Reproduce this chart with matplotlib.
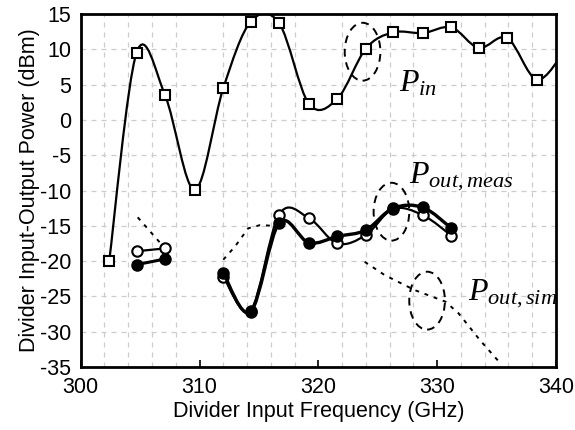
import numpy as np
import matplotlib
matplotlib.use('Agg')
import matplotlib.pyplot as plt
from matplotlib.path import Path
from matplotlib.patches import PathPatch, Ellipse

plt.rcParams['font.family'] = ['Liberation Sans', 'DejaVu Sans']
plt.rcParams['axes.unicode_minus'] = False
plt.rcParams['mathtext.fontset'] = 'custom'
plt.rcParams['mathtext.it'] = 'Liberation Serif:italic'
plt.rcParams['mathtext.rm'] = 'Liberation Serif'

# P_in (squares)
f_pin = [302.4, 304.7, 307.1, 309.6, 312.0, 314.3, 316.7, 319.2, 321.6,
         324.0, 326.3, 328.8, 331.2, 333.5, 335.9, 338.4, 340.8]
p_pin = [-20.0, 9.5, 3.5, -9.9, 4.5, 13.9, 13.7, 2.3, 3.0,
         10.1, 12.4, 12.3, 13.1, 10.2, 11.6, 5.7, 10.0]

# P_out,meas - open / filled circles
f_meas_a = [304.7, 307.1]
p_open_a = [-18.6, -18.2]
p_fill_a = [-20.5, -19.7]
f_meas_b = [312.0, 314.3, 316.7, 319.2, 321.6, 324.0, 326.3, 328.8, 331.2]
p_open_b = [-22.2, -27.0, -13.4, -13.9, -17.5, -16.3, -12.6, -13.5, -16.4]
p_fill_b = [-21.7, -27.2, -14.6, -17.4, -16.5, -15.6, -12.5, -12.4, -15.35]

# P_out,sim (dotted, three pieces)
f_sim1 = [304.8, 307.1]
p_sim1 = [-13.8, -18.2]
f_sim2 = [312.0, 313.0, 314.1, 315.1, 316.2, 316.7]
p_sim2 = [-19.8, -17.9, -15.35, -14.9, -15.0, -14.6]
f_sim3 = [323.9, 325.6, 328.1, 330.7, 331.8, 333.6, 335.2]
p_sim3 = [-20.1, -22.0, -24.1, -25.75, -27.4, -31.2, -34.25]


def smooth_path(x, y):
    # Excel style smoothed line: Catmull-Rom converted to cubic Bezier
    pts = np.column_stack([np.asarray(x, float), np.asarray(y, float)])
    n = len(pts)
    verts = [pts[0]]
    codes = [Path.MOVETO]
    for i in range(n - 1):
        p0 = pts[i - 1] if i > 0 else pts[i]
        p1 = pts[i]
        p2 = pts[i + 1]
        p3 = pts[i + 2] if i + 2 < n else pts[i + 1]
        verts += [p1 + (p2 - p0) / 6.0, p2 - (p3 - p1) / 6.0, p2]
        codes += [Path.CURVE4] * 3
    return Path(verts, codes)


fig = plt.figure(figsize=(5.75, 4.3), dpi=100)
ax = fig.add_axes([0.1403, 0.1465, 0.8267, 0.8209])

ax.set_xlim(300, 340)
ax.set_ylim(-35, 15)
ax.set_xticks(np.arange(300, 341, 10))
ax.set_yticks(np.arange(-35, 16, 5))
ax.set_xticks(np.arange(300, 341, 2), minor=True)

ax.grid(True, which='major', axis='y', color='#cccccc', linestyle=(0, (4, 4)), lw=0.9)
ax.grid(True, which='minor', axis='x', color='#cccccc', linestyle=(0, (4, 4)), lw=0.9)
ax.set_axisbelow(True)
ax.tick_params(axis='x', which='major', direction='in', length=5, width=1.2, labelsize=15.5, pad=7)
ax.tick_params(axis='x', which='minor', length=0)
ax.tick_params(axis='y', which='major', length=0, labelsize=15.5, pad=7)
for s in ax.spines.values():
    s.set_linewidth(2.0)

# P_in
ax.add_patch(PathPatch(smooth_path(f_pin, p_pin), fc='none', ec='black', lw=1.6, zorder=3))
ax.plot(f_pin, p_pin, ls='none', marker='s', ms=7, mfc='white', mec='black', mew=1.5, zorder=4)

# P_out,sim
for fx, py in [(f_sim1, p_sim1), (f_sim2, p_sim2), (f_sim3, p_sim3)]:
    ax.plot(fx, py, color='black', ls=(0, (2, 3)), lw=1.4, zorder=2)

# P_out,meas
ax.plot(f_meas_a, p_open_a, color='black', lw=1.6, marker='o', ms=7.5, mfc='white', mec='black', mew=1.5, zorder=4)
ax.plot(f_meas_a, p_fill_a, color='black', lw=2.2, marker='o', ms=8, mfc='black', mec='black', zorder=5)
ax.add_patch(PathPatch(smooth_path(f_meas_b, p_open_b), fc='none', ec='black', lw=1.6, zorder=3))
ax.plot(f_meas_b, p_open_b, ls='none', marker='o', ms=7.5, mfc='white', mec='black', mew=1.5, zorder=4)
ax.add_patch(PathPatch(smooth_path(f_meas_b, p_fill_b), fc='none', ec='black', lw=2.4, zorder=5))
ax.plot(f_meas_b, p_fill_b, ls='none', marker='o', ms=8, mfc='black', mec='black', zorder=6)

# dashed ellipses
for cx, cy in [(323.72, 9.66), (326.15, -13.0), (329.15, -25.6)]:
    ax.add_patch(Ellipse((cx, cy), 3.0, 8.2, fill=False, ec='black', lw=1.4,
                         ls=(0, (4, 3)), zorder=6))

ax.text(326.8, 4.0, r'$P_{in}$', fontsize=23, ha='left', va='baseline')
ax.text(327.66, -9.0, r'$P_{out,meas}$', fontsize=23, ha='left', va='baseline')
ax.text(332.6, -25.5, r'$P_{out,sim}$', fontsize=23, ha='left', va='baseline')

ax.set_xlabel('Divider Input Frequency (GHz)', fontsize=15.5, labelpad=2)
ax.set_ylabel('Divider Input-Output Power (dBm)', fontsize=15.5, labelpad=0)

fig.savefig('out.png', dpi=100)
